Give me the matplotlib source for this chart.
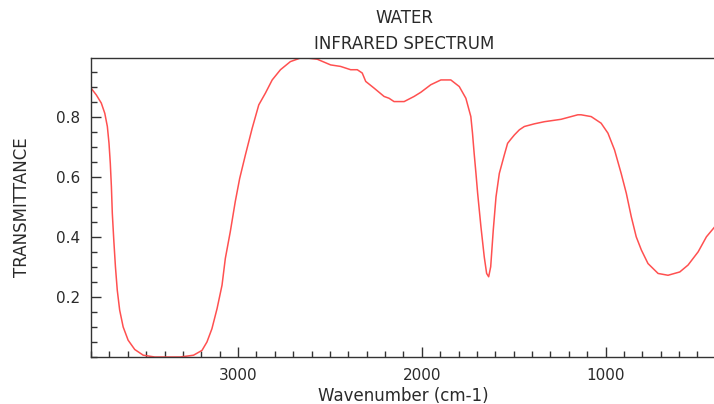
import matplotlib
matplotlib.use("Agg")
import matplotlib.pyplot as plt
from matplotlib.ticker import MultipleLocator, FixedLocator

wavenumber = [3800, 3771, 3744, 3725, 3711, 3702, 3695, 3689, 3684, 3676, 3667, 3657,
              3644, 3625, 3598, 3562, 3516, 3453, 3314, 3242, 3196, 3169, 3142, 3114,
              3087, 3069, 3042, 3015, 2991, 2960, 2923, 2887, 2851, 2814, 2769, 2715,
              2660, 2623, 2569, 2496, 2442, 2387, 2351, 2324, 2305, 2260, 2205, 2178,
              2151, 2096, 2042, 2005, 1951, 1896, 1842, 1796, 1760, 1733, 1724, 1715,
              1705, 1696, 1678, 1660, 1647, 1636, 1625, 1611, 1596, 1578, 1551, 1533,
              1515, 1496, 1469, 1442, 1387, 1333, 1242, 1151, 1133, 1078, 1024, 987,
              951, 915, 887, 860, 833, 805, 769, 714, 660, 596, 551, 496, 451, 406]
transmittance = [0.895, 0.872, 0.845, 0.811, 0.767, 0.711, 0.645, 0.567, 0.478, 0.389, 0.300, 0.222,
                 0.156, 0.100, 0.056, 0.025, 0.006, 0.000, 0.000, 0.006, 0.022, 0.050, 0.094, 0.161,
                 0.239, 0.328, 0.417, 0.517, 0.594, 0.672, 0.761, 0.839, 0.878, 0.922, 0.956, 0.983,
                 0.995, 0.995, 0.991, 0.972, 0.967, 0.956, 0.956, 0.945, 0.917, 0.895, 0.867, 0.861,
                 0.850, 0.850, 0.867, 0.881, 0.906, 0.922, 0.922, 0.900, 0.861, 0.800, 0.745, 0.678,
                 0.610, 0.545, 0.433, 0.333, 0.278, 0.267, 0.300, 0.422, 0.533, 0.611, 0.672, 0.711,
                 0.725, 0.739, 0.756, 0.767, 0.776, 0.783, 0.791, 0.806, 0.806, 0.800, 0.778, 0.745,
                 0.689, 0.611, 0.545, 0.467, 0.400, 0.356, 0.311, 0.278, 0.272, 0.283, 0.306, 0.350,
                 0.400, 0.433]

x_major = [3000, 2000, 1000]
y_major = [0.2, 0.4, 0.6, 0.8]

W, H = 714, 404
fig = plt.figure(figsize=(W / 100, H / 100), dpi=100)
ax = fig.add_axes([91 / W, (H - 357) / H, 1 - 91 / W + 0.002, (357 - 58) / H])

ax.plot(wavenumber, transmittance, color="#ff5050", lw=1.1, solid_joinstyle="round")
ax.set_xlim(3800, 402)
ax.set_ylim(0, 0.995)

ax.xaxis.set_major_locator(FixedLocator(x_major))
ax.xaxis.set_minor_locator(MultipleLocator(100))
ax.yaxis.set_major_locator(FixedLocator(y_major))
ax.yaxis.set_minor_locator(MultipleLocator(0.05))

grey = "#333333"
txt = "#2a2a2a"
for s in ["left", "bottom", "top"]:
    ax.spines[s].set_color(grey)
    ax.spines[s].set_linewidth(1.0)
ax.spines["right"].set_visible(False)

ax.tick_params(axis="both", which="major", direction="in", length=7, width=1, color=grey,
               labelsize=11, labelcolor=txt, top=False, right=False)
ax.tick_params(axis="both", which="minor", direction="in", length=4, width=1, color=grey,
               top=False, right=False)
ax.tick_params(axis="x", which="major", pad=8)
ax.tick_params(axis="y", which="major", pad=8)

ax.set_xlabel("Wavenumber (cm-1)", fontsize=12, color=txt, labelpad=3)
ax.set_ylabel("TRANSMITTANCE", fontsize=12, color=txt, labelpad=18)

fig.text(404 / W, 1 - 18 / H, "WATER", ha="center", va="center", fontsize=12, color=txt)
fig.text(404 / W, 1 - 44 / H, "INFRARED SPECTRUM", ha="center", va="center", fontsize=12, color=txt)

fig.savefig("out.png", dpi=100)
